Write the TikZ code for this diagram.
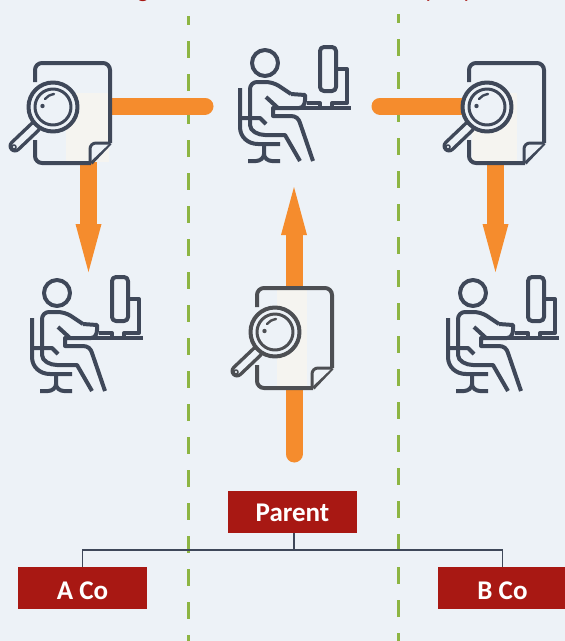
\documentclass[tikz,border=0pt]{standalone}
\usepackage{fontspec}
\setmainfont{Carlito}
\usetikzlibrary{calc}

\definecolor{pagebg}{HTML}{EDF2F7}
\definecolor{iconink}{HTML}{3F4859}
\definecolor{midink}{HTML}{4D4F53}
\definecolor{sheetlight}{HTML}{F5F4F0}
\definecolor{flow}{HTML}{F58C2D}
\definecolor{boxred}{HTML}{A81813}
\definecolor{border}{HTML}{8DB543}

\tikzset{
    company/.style={fill=boxred, text=white, minimum width=129pt, minimum height=42pt,
        inner sep=0pt, text depth=0pt, font=\fontsize{27}{27}\selectfont\bfseries},
    cutoff/.style={text=boxred, inner sep=0pt, anchor=base, font=\fontsize{24}{24}\selectfont},
    boundary/.style={border, line width=3pt, dash pattern=on 17pt off 16pt, dash phase=8pt},
    flowline/.style={flow, line width=17pt},
    orgline/.style={iconink, line width=1.3pt},
    iconline/.style={iconink, line width=4pt, line join=round},
    % document with magnifier, origin at the sheet's top left corner
    pics/docicon/.style n args={3}{code={
        \fill[pagebg] (0,0) rectangle (76,100);
        \fill[sheetlight] (#1,#3) rectangle (#2,100);
        \draw[iconline, rounded corners=7pt] (1,20) -- (1,1) -- (76,1) -- (76,81);
        \draw[iconline] (76,81) -- (57,101);
        \draw[iconline, rounded corners=7pt] (57,101) -- (1,101) -- (1,78);
        \fill[pagebg] (76,81) -- (62,81) -- (56,87) -- (56,100) -- cycle;
        \draw[iconline, line width=3pt, rounded corners=6pt] (76,81) -- (56,81) -- (56,101);
        \draw[iconink, line width=13pt, line cap=round] (1,65) -- (-19,84);
        \draw[pagebg, line width=6pt, line cap=round] (1,65) -- (-19,84);
        \draw[iconink, line width=1.5pt] (-20,85) circle (2);
        \fill[pagebg] (19,45) circle (25);
        \draw[iconline] (19,45) circle (24.5);
        \draw[iconline, line width=3pt] (19,45) circle (18);
        \draw[iconline, line width=2.4pt, line cap=round] (11,37) .. controls (13,34) and (16,33) .. (20,32);
        \fill[iconink] (8.5,44) circle (2.2);
    }},
    % person at a desk, origin at the centre of the head
    desker/.pic={
        \draw[iconline] (0,0) circle (13);
        % chair
        \draw[iconline] (-25,25) -- (-25,64) .. controls (-25,74) and (-17,81) .. (-7,81) -- (15,81);
        \draw[iconline] (-25,55) -- (-5,55) -- (1,61);
        \draw[iconline] (-1,81) -- (-1,91) .. controls (-1,95) and (-5,98) .. (-9,98) -- (-17,98);
        \draw[iconline] (-1,91) .. controls (-1,95) and (3,98) .. (7,98) -- (15,98);
        % body
        \draw[iconline, rounded corners=7pt] (-15,56) -- (-15,19) -- (8,19) -- (26,31);
        \draw[iconline] (26,31) -- (40,32) -- (40,37) .. controls (40,41) and (38,45) .. (34,45)
            -- (8,45) -- (8,53) -- (26,53) .. controls (31,53) and (34,56) .. (35,60) -- (48,98);
        \draw[iconline] (-15,55) -- (-15,62) .. controls (-15,68) and (-7,72) .. (0,72)
            -- (20,72) -- (35,98);
        \draw[iconline] (1,34) -- (13,45);
        % desk and computer
        \draw[iconline] (8,45) -- (86,45);
        \draw[iconline, rounded corners=4pt] (55,-16) rectangle (71,28);
        \draw[iconline] (71,6) -- (82,6) -- (82,40) -- (67,40) -- (67,45);
        \draw[iconline] (42,40) -- (55,40) -- (55,45);
    },
}

\begin{document}
\begin{tikzpicture}[x=1pt, y=-1pt]
\useasboundingbox[fill=pagebg] (0,0) rectangle (565,641);

% Named positions
\coordinate (sheetleft) at (34,62);
\coordinate (sheetright) at (468,62);
\coordinate (sheetmid) at (256,287);
\coordinate (deskmid) at (265,63);
\coordinate (deskleft) at (57,293);
\coordinate (deskright) at (473,293);
\coordinate (bus) at (294,550);

% Heading, cut off by the page
\node[cutoff] (headleft) at (143,-3) {g};
\node[cutoff] (headrighta) at (430,-3) {y};
\node[cutoff] (headrightb) at (468,-3) {y};

% Boundaries
\foreach \x/\y/\name in {188/16/borderleft, 398/14/borderright} {
    \coordinate (\name) at (\x,641);
    \draw[boundary] (\x,\y) -- (\name);
}

% Flows
\draw[flowline, line cap=round] (205,106) -- (110,106);
\draw[flowline, line cap=round] (380,106) -- (470,106);
\draw[flowline, line cap=round] (294,454) -- (294,380);
\foreach \x/\ybase/\ytail/\ytip in {88.5/224/160/272, 495.5/224/160/272, 294/235/300/187} {
    \draw[flowline] (\x,\ytail) -- (\x,\ybase);
    \fill[flow] (\x-13,\ybase) -- (\x+13,\ybase) -- (\x,\ytip) -- cycle;
}

% Icons
\pic at (sheetleft) {docicon={32}{75}{31}};
\pic at (sheetright) {docicon={4}{49}{31}};
\begin{scope}
\colorlet{iconink}{midink}
\pic at (sheetmid) {docicon={21}{51}{2}};
\end{scope}
\pic at (deskmid) {desker};
\pic at (deskleft) {desker};
\pic at (deskright) {desker};

% Companies
\node[company, text height=19.4pt] (parent) at (292.5,512) {Parent};
\node[company, text height=22.6pt] (aco) at (82.5,588) {A Co};
\node[company, text height=22.6pt] (bco) at (502.5,588) {B Co};
\draw[orgline] (parent.south -| bus) -- (bus);
\draw[orgline] (aco.north) |- (bus) -| (bco.north);
\end{tikzpicture}
\end{document}
